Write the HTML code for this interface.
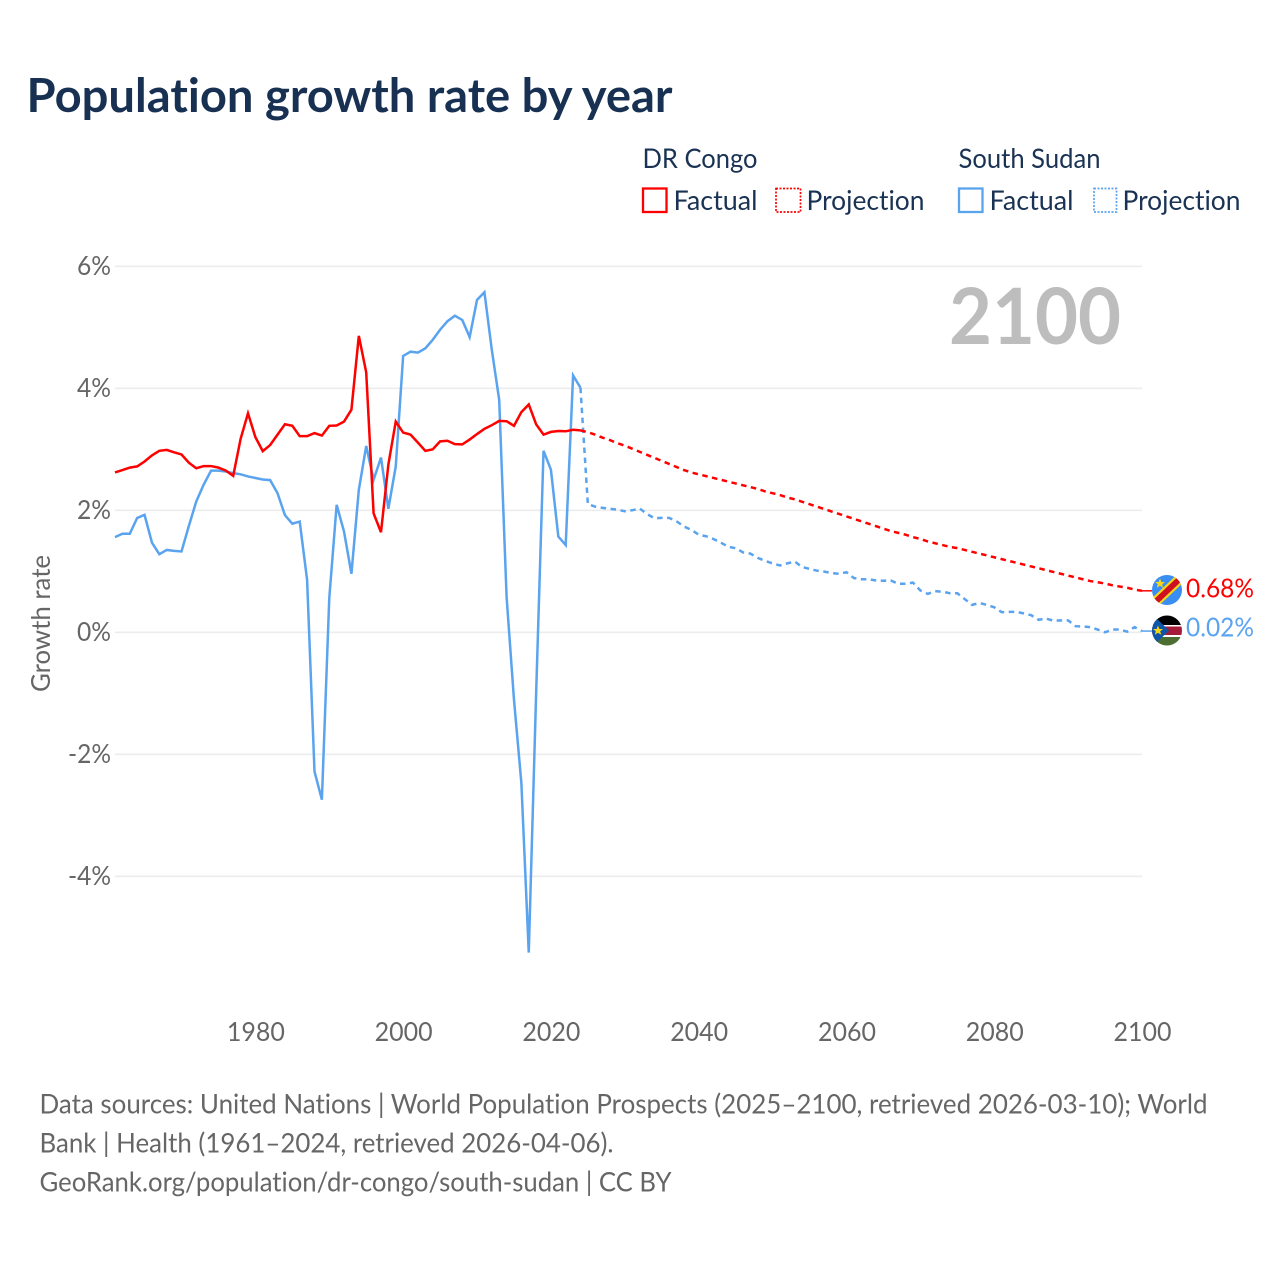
<!DOCTYPE html>
<html lang="en">
<head>
<meta charset="utf-8">
<title>Population growth rate by year</title>
<style>
html,body{margin:0;padding:0;background:#fff;}
svg{display:block;font-family:Lato,Carlito,"Liberation Sans",sans-serif;font-variant-ligatures:none;font-feature-settings:"liga" 0,"clig" 0;}
</style>
</head>
<body>
<svg id="chart" xmlns="http://www.w3.org/2000/svg" width="1280" height="1280" viewBox="0 0 1280 1280">
  <defs>
    <clipPath id="clip-drc"><circle cx="1167" cy="590" r="15"/></clipPath>
    <clipPath id="clip-ss"><circle cx="1167" cy="630.5" r="15"/></clipPath>
  </defs>
  <rect x="0" y="0" width="1280" height="1280" fill="#fff"/>
  <text x="26.5" y="112" font-size="47" font-weight="700" fill="#183153" textLength="646" lengthAdjust="spacingAndGlyphs">Population growth rate by year</text>

  <g font-size="27" fill="#1a3354">
    <text x="642.5" y="168" textLength="115" lengthAdjust="spacingAndGlyphs">DR Congo</text>
    <text x="958.5" y="168" textLength="142" lengthAdjust="spacingAndGlyphs">South Sudan</text>
    <rect x="643" y="188.5" width="23.5" height="23.5" fill="none" stroke="#ff0000" stroke-width="2.3"/>
    <text x="673.5" y="210" textLength="84" lengthAdjust="spacingAndGlyphs">Factual</text>
    <rect x="776" y="188.5" width="24.5" height="23.5" fill="none" stroke="#ff0000" stroke-width="1.7" stroke-dasharray="2 1.5"/>
    <text x="806.5" y="210" textLength="118" lengthAdjust="spacingAndGlyphs">Projection</text>
    <rect x="959" y="188.5" width="23.5" height="23.5" fill="none" stroke="#5aa3ef" stroke-width="2.3"/>
    <text x="989.5" y="210" textLength="84" lengthAdjust="spacingAndGlyphs">Factual</text>
    <rect x="1094" y="188.5" width="22.5" height="23.5" fill="none" stroke="#5aa3ef" stroke-width="1.7" stroke-dasharray="2 1.5"/>
    <text x="1122.5" y="210" textLength="118" lengthAdjust="spacingAndGlyphs">Projection</text>
  </g>

  <g id="grid"></g>
  <g id="yticks"></g>
  <g id="xticks"></g>

  <text x="949" y="344" font-size="78" font-weight="700" fill="#bdbdbd" textLength="172" lengthAdjust="spacingAndGlyphs">2100</text>
  <text transform="translate(50,692) rotate(-90)" x="0" y="0" font-size="26" fill="#666" textLength="137" lengthAdjust="spacingAndGlyphs">Growth rate</text>

  <g id="series"></g>

  <g clip-path="url(#clip-drc)">
    <rect x="1150" y="573" width="34" height="34" fill="#3a8df2"/>
    <polygon points="1186,566 1186,580 1150,614 1150,600" fill="#f7d618"/>
    <polygon points="1186,569 1186,577 1150,611 1150,603" fill="#ce1021"/>
    <polygon points="1160,578.5 1161.4,582 1165,582 1162.2,584.2 1163.2,587.8 1160,585.7 1156.8,587.8 1157.8,584.2 1155,582 1158.6,582" fill="#f7d618"/>
  </g>
  <g clip-path="url(#clip-ss)">
    <rect x="1150" y="615" width="34" height="10.5" fill="#000"/>
    <rect x="1150" y="625" width="34" height="12" fill="#fff"/>
    <rect x="1150" y="626.5" width="34" height="8.5" fill="#a51c38"/>
    <rect x="1150" y="637" width="34" height="10" fill="#4c6e31"/>
    <polygon points="1150,612 1169,630.5 1150,649" fill="#0f56a8"/>
    <polygon points="1158,625.5 1159.4,629 1163,629 1160.2,631.2 1161.2,634.8 1158,632.7 1154.8,634.8 1155.8,631.2 1153,629 1156.6,629" fill="#f7d618"/>
  </g>

  <g id="endlabels"></g>

  <g font-size="27" fill="#666">
    <text x="39.5" y="1113.5" textLength="1168" lengthAdjust="spacingAndGlyphs">Data sources: United Nations | World Population Prospects (2025–2100, retrieved 2026-03-10); World</text>
    <text x="39.5" y="1152.5" textLength="574" lengthAdjust="spacingAndGlyphs">Bank | Health (1961–2024, retrieved 2026-04-06).</text>
    <text x="39.5" y="1191.5" textLength="632" lengthAdjust="spacingAndGlyphs">GeoRank.org/population/dr-congo/south-sudan | CC BY</text>
  </g>
</svg>

<script>
const factualStartYear = 1961;
const projectionStartYear = 2025;
const yTicks = [-4, -2, 0, 2, 4, 6];
const yTickLabels = ["-4%", "-2%", "0%", "2%", "4%", "6%"];
const xTicks = [1980, 2000, 2020, 2040, 2060, 2080, 2100];
const xTickLabels = ["1980", "2000", "2020", "2040", "2060", "2080", "2100"];

const drCongoFactual = [
  2.62,2.66,2.70,2.72,2.80,2.90,2.975,2.99,2.95,2.915,
  2.78,2.69,2.725,2.725,2.70,2.65,2.565,3.17,3.59,3.20,
  2.97,3.07,3.24,3.41,3.385,3.215,3.215,3.265,3.225,3.385,
  3.39,3.455,3.65,4.86,4.26,1.95,1.64,2.75,3.455,3.275,
  3.24,3.11,2.975,3.00,3.13,3.14,3.085,3.08,3.16,3.25,
  3.335,3.395,3.465,3.46,3.385,3.61,3.735,3.41,3.24,3.285,
  3.30,3.295,3.32,3.31
];
const drCongoProjection = [
  3.28,3.24,3.19,3.15,3.10,3.06,3.01,2.96,2.91,2.86,
  2.81,2.76,2.71,2.66,2.62,2.59,2.56,2.53,2.50,2.47,
  2.44,2.41,2.38,2.35,2.31,2.28,2.25,2.21,2.18,2.14,
  2.10,2.06,2.02,1.98,1.94,1.90,1.86,1.82,1.78,1.74,
  1.70,1.66,1.63,1.60,1.56,1.53,1.49,1.46,1.43,1.40,
  1.38,1.35,1.32,1.29,1.26,1.23,1.20,1.17,1.14,1.11,
  1.08,1.05,1.02,0.99,0.96,0.93,0.90,0.87,0.84,0.82,
  0.80,0.77,0.75,0.73,0.70,0.68
];
const southSudanFactual = [
  1.56,1.615,1.615,1.875,1.925,1.47,1.28,1.35,1.335,1.325,
  1.745,2.145,2.42,2.65,2.65,2.635,2.61,2.59,2.555,2.53,
  2.505,2.495,2.28,1.92,1.78,1.815,0.86,-2.28,-2.745,0.56,
  2.09,1.65,0.96,2.335,3.055,2.50,2.865,2.025,2.72,4.53,
  4.60,4.585,4.655,4.795,4.96,5.10,5.19,5.12,4.84,5.45,
  5.575,4.63,3.81,0.58,-1.105,-2.47,-5.25,-1.0,2.975,2.665,
  1.57,1.43,4.21,4.01
];
const southSudanProjection = [
  2.10,2.06,2.04,2.025,2.01,1.985,2.00,2.03,1.94,1.87,
  1.875,1.875,1.82,1.735,1.68,1.60,1.575,1.53,1.47,1.40,
  1.38,1.31,1.29,1.22,1.17,1.13,1.095,1.13,1.16,1.07,
  1.04,1.01,0.995,0.97,0.96,0.985,0.89,0.87,0.87,0.85,
  0.845,0.85,0.795,0.795,0.815,0.685,0.63,0.675,0.665,0.64,
  0.64,0.545,0.45,0.48,0.45,0.41,0.33,0.335,0.335,0.31,
  0.28,0.205,0.225,0.19,0.195,0.195,0.10,0.095,0.085,0.045,
  0.00,0.045,0.045,0.01,0.085,0.02
];

const RED = "#ff0000";
const BLUE = "#5aa3ef";
const SVG_NS = "http://www.w3.org/2000/svg";

function xScale(year) { return 115 + (year - 1961) * (1142 - 115) / (2100 - 1961); }
function yScale(v) { return 632.3 - v * 61; }

function pathFor(startYear, values) {
  return values.map(function (v, i) {
    return (i ? "L" : "M") + xScale(startYear + i).toFixed(2) + " " + yScale(v).toFixed(2);
  }).join("");
}

const gridLayer = document.getElementById("grid");
const yTickLayer = document.getElementById("yticks");
const xTickLayer = document.getElementById("xticks");
const seriesLayer = document.getElementById("series");
const endLayer = document.getElementById("endlabels");

yTicks.forEach(function (t, i) {
  const line = document.createElementNS(SVG_NS, "line");
  
  
  line.setAttribute("x1", 115);
  line.setAttribute("x2", 1142);
  line.setAttribute("y1", yScale(t));
  line.setAttribute("y2", yScale(t));
  line.setAttribute("stroke", "#ececec");
  line.setAttribute("stroke-width", 1.6);
  gridLayer.appendChild(line);

  const label = document.createElementNS(SVG_NS, "text");
  
  
  label.setAttribute("x", 111);
  label.setAttribute("y", yScale(t) + 8.5);
  label.setAttribute("text-anchor", "end");
  label.setAttribute("font-size", 26);
  label.setAttribute("fill", "#666");
  label.setAttribute("textLength", t < 0 ? 43 : 34);
  label.setAttribute("lengthAdjust", "spacingAndGlyphs");
  label.textContent = yTickLabels[i];
  yTickLayer.appendChild(label);
});

xTicks.forEach(function (t, i) {
  const label = document.createElementNS(SVG_NS, "text");
  
  
  label.setAttribute("x", xScale(t) + 0.5);
  label.setAttribute("y", 1041);
  label.setAttribute("text-anchor", "middle");
  label.setAttribute("font-size", 26);
  label.setAttribute("fill", "#666");
  label.setAttribute("textLength", 58);
  label.setAttribute("lengthAdjust", "spacingAndGlyphs");
  label.textContent = xTickLabels[i];
  xTickLayer.appendChild(label);
});

function addLine(d, color, dashed, name) {
  const p = document.createElementNS(SVG_NS, "path");
  
  
  p.setAttribute("d", d);
  p.setAttribute("fill", "none");
  p.setAttribute("stroke", color);
  p.setAttribute("stroke-width", 2.5);
  p.setAttribute("stroke-linejoin", "miter");
  if (dashed) p.setAttribute("stroke-dasharray", "5.5 4.5");
  seriesLayer.appendChild(p);
}

function addConnector(value, color, name) {
  const c = document.createElementNS(SVG_NS, "line");
  
  
  c.setAttribute("x1", xScale(2100));
  c.setAttribute("x2", 1152);
  c.setAttribute("y1", yScale(value));
  c.setAttribute("y2", yScale(value));
  c.setAttribute("stroke", color);
  c.setAttribute("stroke-width", 1.5);
  seriesLayer.appendChild(c);
}

function lastOf(a) { return a[a.length - 1]; }

addLine(pathFor(factualStartYear, southSudanFactual), BLUE, false, "line-south-sudan-factual");
addLine(pathFor(projectionStartYear - 1, [lastOf(southSudanFactual)].concat(southSudanProjection)), BLUE, true, "line-south-sudan-projection");
addLine(pathFor(factualStartYear, drCongoFactual), RED, false, "line-dr-congo-factual");
addLine(pathFor(projectionStartYear - 1, [lastOf(drCongoFactual)].concat(drCongoProjection)), RED, true, "line-dr-congo-projection");
addConnector(lastOf(southSudanProjection), BLUE, "connector-south-sudan");
addConnector(lastOf(drCongoProjection), RED, "connector-dr-congo");

function addEndLabel(value, color, name, dy) {
  const label = document.createElementNS(SVG_NS, "text");
  
  
  label.setAttribute("x", 1186);
  label.setAttribute("y", yScale(value) + dy);
  label.setAttribute("font-size", 26);
  label.setAttribute("fill", color);
  label.setAttribute("textLength", 68);
  label.setAttribute("lengthAdjust", "spacingAndGlyphs");
  label.textContent = value.toFixed(2) + "%";
  endLayer.appendChild(label);
}
addEndLabel(lastOf(drCongoProjection), RED, "end-label-dr-congo", 6.5);
addEndLabel(lastOf(southSudanProjection), BLUE, "end-label-south-sudan", 5.5);
</script>
</body>
</html>
